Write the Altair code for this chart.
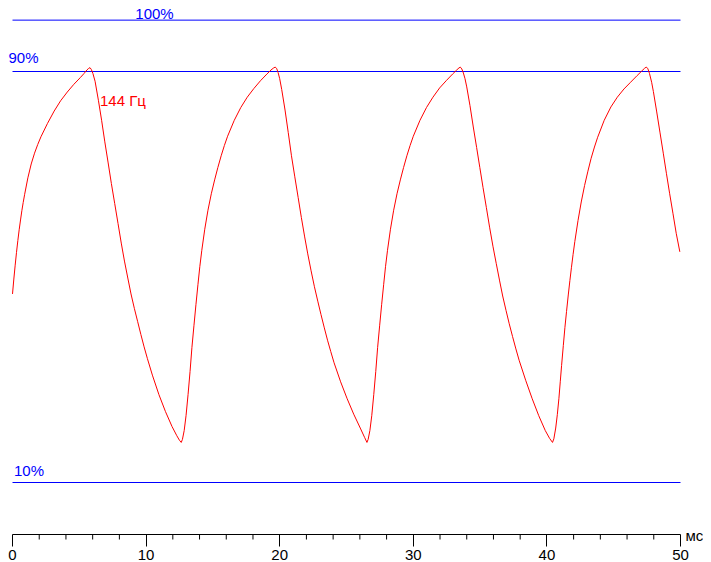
import altair as alt
import pandas as pd

# ---- data (time in ms, level in %) ----
t_ms = [
    # initial rise
    0.00, 0.10, 0.20, 0.30, 0.40, 0.50, 0.60, 0.70, 0.80, 0.91, 1.15, 1.40, 1.65, 1.89, 2.13, 2.62, 3.12, 3.60, 4.10, 4.59, 5.07, 5.35, 5.57, 5.70, 5.80,
    # fall 1
    5.90, 6.02, 6.18, 6.43, 6.67, 6.91, 7.16, 7.40, 7.65, 7.90, 8.14, 8.38, 8.63, 8.87, 9.12, 9.37, 9.61, 9.85, 10.10, 10.47, 10.96, 11.45, 11.94, 12.30, 12.50, 12.63,
    # rise 2
    12.72, 12.85, 12.99, 13.14, 13.29, 13.43, 13.58, 13.73, 13.88, 14.02, 14.17, 14.39, 14.63, 14.88, 15.13, 15.37, 15.62, 15.86, 16.10, 16.60, 17.09, 17.57, 18.07, 18.56, 19.04, 19.35, 19.55, 19.66,
    # fall 2
    19.77, 19.88, 20.00, 20.15, 20.40, 20.64, 20.88, 21.13, 21.38, 21.62, 21.87, 22.10, 22.35, 22.60, 22.85, 23.09, 23.34, 23.58, 23.82, 24.07, 24.56, 25.05, 25.54, 26.03, 26.35, 26.53,
    # rise 3
    26.62, 26.75, 26.89, 27.04, 27.19, 27.33, 27.48, 27.63, 27.78, 27.92, 28.07, 28.29, 28.53, 28.78, 29.03, 29.27, 29.52, 29.76, 30.00, 30.50, 30.99, 31.47, 31.97, 32.46, 32.94, 33.25, 33.42, 33.52,
    # fall 3
    33.63, 33.75, 33.87, 34.00, 34.24, 34.49, 34.74, 34.98, 35.22, 35.47, 35.71, 35.96, 36.21, 36.45, 36.69, 36.94, 37.18, 37.43, 37.68, 37.92, 38.41, 38.90, 39.39, 39.88, 40.20, 40.42,
    # rise 4
    40.52, 40.66, 40.78, 40.90, 41.00, 41.10, 41.23, 41.35, 41.47, 41.60, 41.72, 41.84, 41.96, 42.09, 42.33, 42.57, 42.82, 43.07, 43.31, 43.56, 43.80, 44.29, 44.79, 45.27, 45.77, 46.26, 46.75, 47.10, 47.30, 47.43,
    # final fall
    47.55, 47.68, 47.84, 47.97, 48.21, 48.46, 48.71, 48.95, 49.19, 49.44, 49.68, 49.95,
]
level_pct = [
    46.7, 49.6, 52.3, 54.8, 57.1, 59.2, 61.1, 62.9, 64.5, 66.1, 69.3, 72.0, 74.1, 75.8, 77.3, 79.9, 82.3, 84.3, 86.0, 87.5, 88.8, 89.6, 90.3, 90.6, 90.75,
    90.4, 89.6, 88.1, 84.4, 80.5, 76.3, 72.2, 68.2, 64.3, 60.4, 56.6, 53.1, 49.8, 46.7, 43.9, 41.3, 38.8, 36.4, 34.1, 30.9, 27.1, 23.8, 20.9, 19.1, 18.2, 17.8,
    18.4, 20.1, 23.0, 27.1, 31.6, 36.3, 40.5, 44.6, 48.5, 52.0, 55.2, 59.3, 63.0, 66.2, 68.9, 71.3, 73.6, 75.6, 77.4, 80.5, 83.0, 85.0, 86.7, 88.2, 89.5, 90.3, 90.7, 90.85,
    90.6, 89.8, 88.6, 86.5, 82.5, 78.1, 73.6, 69.5, 65.5, 61.6, 57.8, 54.5, 51.2, 48.1, 45.3, 42.7, 40.1, 37.7, 35.5, 33.3, 29.6, 26.3, 23.3, 20.6, 18.8, 17.8,
    18.4, 20.1, 23.0, 27.1, 31.6, 36.3, 40.5, 44.6, 48.5, 52.0, 55.2, 59.3, 63.0, 66.2, 68.9, 71.3, 73.6, 75.6, 77.4, 80.5, 83.0, 85.0, 86.8, 88.2, 89.5, 90.3, 90.7, 90.85,
    90.5, 89.7, 88.6, 87.0, 83.4, 79.2, 75.2, 71.3, 67.4, 63.5, 59.7, 56.0, 52.6, 49.4, 46.3, 43.5, 40.9, 38.4, 36.0, 33.8, 29.9, 26.3, 23.0, 20.1, 18.6, 17.8,
    18.5, 20.6, 23.2, 26.4, 29.6, 32.8, 36.7, 40.2, 43.3, 46.5, 49.3, 51.9, 54.4, 56.9, 61.0, 64.6, 67.8, 70.6, 73.1, 75.3, 77.2, 80.5, 83.1, 85.0, 86.6, 87.9, 89.2, 90.1, 90.6, 90.85,
    90.6, 89.6, 87.9, 86.1, 82.3, 78.2, 74.1, 70.1, 66.2, 62.3, 58.5, 54.9,
]
ref_levels = [10, 90, 100]
minor_ticks = [2, 4, 6, 8, 12, 14, 16, 18, 22, 24, 26, 28, 32, 34, 36, 38, 42, 44, 46, 48]
major_ticks = [0, 10, 20, 30, 40, 50]
series_label = "144 Гц"
unit_label = "мс"

FONT = "Liberation Sans"
W, H = 668, 513.75
AX_OFF = 0.625
RED = "#ff0000"
BLUE = "#0000ff"

x_scale = alt.Scale(domain=[0, 50], nice=False, zero=False)
y_scale = alt.Scale(domain=[0, 100], nice=False, zero=False)

df = pd.DataFrame({"t": t_ms, "p": level_pct})

curve = alt.Chart(df).mark_line(color=RED, strokeWidth=1).encode(
    x=alt.X("t:Q", scale=x_scale, axis=alt.Axis(
        values=major_ticks, tickSize=12, tickColor="black", tickWidth=1,
        domain=True, domainColor="black", domainWidth=1, grid=False,
        offset=AX_OFF, translate=0,
        labelOverlap=False, labelFlush=False, labelPadding=1,
        labelFont=FONT, labelFontSize=15, labelColor="black",
        title=unit_label, titleFont=FONT, titleFontSize=15, titleFontWeight="normal",
        titleColor="black", titleX=W + 5, titleY=6, titleAlign="left",
        titleBaseline="alphabetic", titleAngle=0, titleAnchor="start",
    )),
    y=alt.Y("p:Q", scale=y_scale, axis=None),
)

rules = alt.Chart(pd.DataFrame({"v": ref_levels})).mark_rule(color=BLUE, strokeWidth=1).encode(
    y=alt.Y("v:Q", scale=y_scale, axis=None),
)

minor = alt.Chart(pd.DataFrame({"t": minor_ticks})).mark_rule(color="black", strokeWidth=1).encode(
    x=alt.X("t:Q", scale=x_scale),
    y=alt.value(H + AX_OFF),
    y2=alt.value(H + AX_OFF + 5),
)


def label(text, x, y, color, align="left"):
    return alt.Chart(pd.DataFrame({"s": [text]})).mark_text(
        align=align, baseline="alphabetic", font=FONT, fontSize=15, color=color
    ).encode(x=alt.datum(x), y=alt.datum(y), text="s:N")


labels = [
    label("100%", 10.63, 100.15, BLUE, "center"),
    label("90%", -0.3, 91.65, BLUE),
    label("10%", 0.11, 11.32, BLUE),
    label(series_label, 6.55, 83.38, RED),
]

chart = alt.layer(rules, curve, minor, *labels).properties(
    width=W, height=H,
    autosize=alt.AutoSizeParams(type="none"),
    padding={"left": 4.5, "top": 12.125, "right": 22.5, "bottom": 28.125},
    background="white",
).configure_view(stroke=None)

chart.save("out.html", embed_options={"renderer": "svg", "actions": False})
